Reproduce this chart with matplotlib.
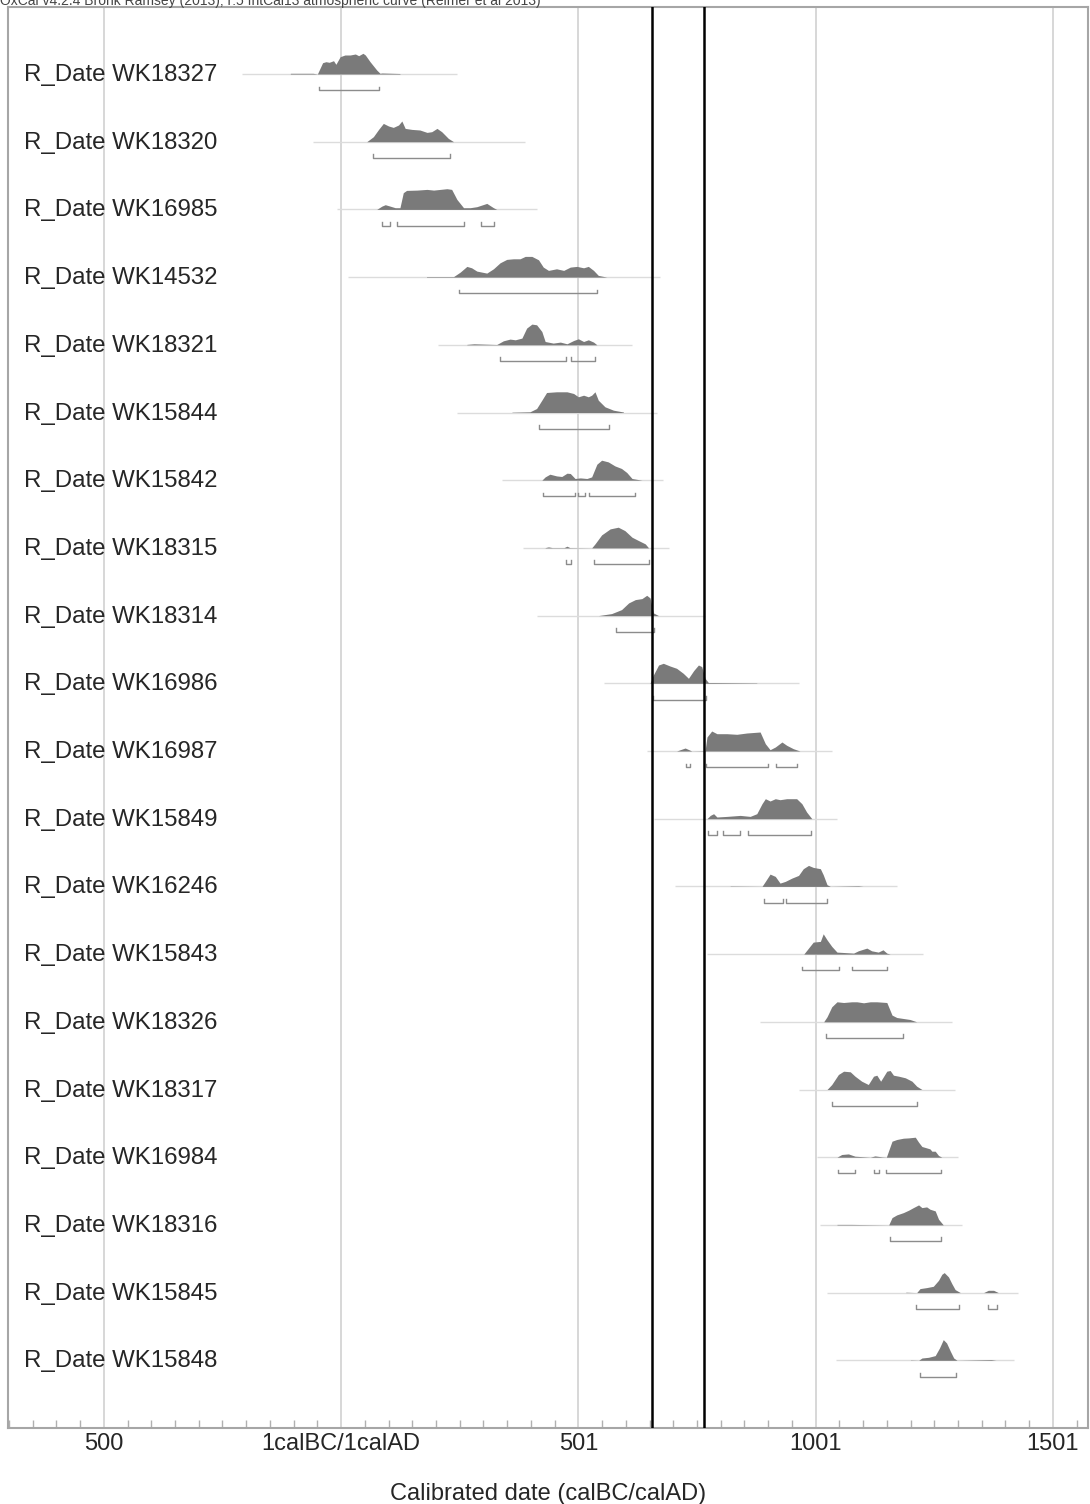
#!/usr/bin/python
# -*- coding: utf-8 -*-

import numpy as np
import matplotlib
matplotlib.use('Agg')
import matplotlib.pyplot as plt
from matplotlib.ticker import MultipleLocator

plt.rcParams['font.family'] = ['Liberation Sans', 'DejaVu Sans']

###############################################################################
# Data read from the OxCal multiplot (years on the calBC/calAD scale,
# heights are relative probability, peak ~21)
###############################################################################
names = [
    'R_Date WK18327', 'R_Date WK18320', 'R_Date WK16985', 'R_Date WK14532',
    'R_Date WK18321', 'R_Date WK15844', 'R_Date WK15842', 'R_Date WK18315',
    'R_Date WK18314', 'R_Date WK16986', 'R_Date WK16987', 'R_Date WK15849',
    'R_Date WK16246', 'R_Date WK15843', 'R_Date WK18326', 'R_Date WK18317',
    'R_Date WK16984', 'R_Date WK18316', 'R_Date WK15845', 'R_Date WK15848',
]

# extent of the thin base line of each likelihood
spans = [
    (-209, 244), (-60, 388), (-9, 412), (15, 672), (205, 613),
    (244, 665), (339, 679), (384, 690), (412, 767), (553, 964),
    (644, 1034), (660, 1045), (704, 1171), (771, 1227), (883, 1287),
    (964, 1294), (1003, 1301), (1010, 1308), (1024, 1427), (1043, 1417),
]

dens_t = [
    [-107, -59, -50, -39, -32, -25, -16, -11, -2, 8, 19, 30, 37, 46, 51, 61, 75, 82, 86, 124],
    [54, 68, 79, 89, 100, 110, 121, 128, 135, 149, 166, 181, 191, 202, 212, 226, 237],
    [75, 86, 93, 103, 114, 124, 131, 138, 160, 181, 195, 209, 223, 233, 244, 258, 272, 286, 307, 321, 328],
    [180, 237, 251, 265, 275, 286, 307, 321, 335, 349, 363, 377, 388, 402, 416, 426, 437, 454, 469, 483, 497, 511, 521, 532, 542, 560],
    [265, 280, 328, 342, 356, 367, 381, 391, 402, 412, 423, 430, 447, 462, 476, 490, 500, 511, 521, 532, 539],
    [360, 398, 412, 423, 433, 454, 476, 490, 500, 511, 521, 528, 535, 542, 556, 574, 595],
    [423, 430, 440, 454, 465, 476, 483, 493, 504, 518, 528, 539, 549, 563, 577, 591, 602, 613, 634],
    [430, 437, 445, 470, 476, 482, 528, 535, 549, 567, 584, 598, 613, 627, 641, 648],
    [542, 570, 591, 606, 620, 634, 644, 651, 658, 669],
    [651, 658, 669, 679, 693, 707, 721, 732, 743, 753, 760, 767, 774, 785, 876],
    [707, 725, 739, 767, 771, 781, 792, 813, 834, 855, 883, 894, 904, 915, 929, 939, 953, 967],
    [771, 778, 785, 792, 813, 841, 862, 876, 887, 894, 904, 915, 925, 939, 960, 971, 981, 992],
    [820, 887, 894, 904, 915, 925, 936, 950, 964, 974, 985, 995, 1010, 1016, 1024, 1031, 1090, 1100],
    [975, 985, 995, 1010, 1016, 1024, 1034, 1045, 1080, 1090, 1108, 1118, 1132, 1142, 1150, 1157],
    [1017, 1024, 1034, 1045, 1059, 1076, 1087, 1101, 1115, 1129, 1150, 1161, 1171, 1185, 1199, 1213],
    [1024, 1034, 1048, 1059, 1073, 1083, 1097, 1111, 1122, 1129, 1137, 1150, 1157, 1164, 1175, 1189, 1203, 1213, 1224],
    [1045, 1055, 1069, 1083, 1115, 1125, 1140, 1149, 1154, 1161, 1171, 1185, 1196, 1210, 1217, 1224, 1234, 1241, 1245, 1252, 1259, 1266],
    [1045, 1075, 1154, 1161, 1171, 1185, 1196, 1206, 1217, 1224, 1234, 1241, 1252, 1259, 1269],
    [1190, 1213, 1220, 1234, 1248, 1259, 1266, 1271, 1280, 1287, 1294, 1305, 1354, 1364, 1375, 1385],
    [1200, 1217, 1224, 1238, 1252, 1261, 1269, 1276, 1284, 1291, 1298, 1370, 1380],
]
dens_h = [
    [0.7, 0.7, 0, 11.3, 12.3, 11.7, 13.3, 9.7, 17.3, 19, 19, 20, 18.3, 20.7, 19, 12.3, 4, 0.7, 1, 0.5],
    [0, 5, 12.3, 18.3, 15.7, 14.3, 16.7, 20.7, 13.3, 12.3, 11.7, 9.3, 10, 13.3, 10, 3.3, 0],
    [0, 3.3, 4.7, 3.3, 1.7, 1.7, 16.7, 19, 19.3, 20, 19.3, 20, 20.7, 20, 10, 1.7, 1.7, 2.7, 6, 1.7, 0],
    [0.5, 0.5, 5, 10.7, 9.3, 6, 4, 8.3, 14.3, 17.7, 18.3, 18.3, 20.7, 20.7, 17.3, 10, 6.7, 8.3, 6.7, 10, 10.7, 9.3, 10.7, 6.7, 1.7, 0],
    [0.4, 1, 0.3, 4, 5.7, 5, 6.7, 16.7, 20.7, 20, 13.3, 3.3, 1.7, 2.7, 1, 4.3, 6, 3.3, 5, 2.7, 0],
    [0.3, 0.7, 4, 12.3, 20, 20.7, 20.7, 19, 15.7, 17.3, 15.7, 17.3, 20.7, 12.3, 5.7, 2.3, 0.5],
    [0, 3.3, 6, 4.3, 3.7, 7, 6.7, 1.7, 2.3, 1.7, 3.3, 16, 20, 18.3, 14.3, 11.7, 7.7, 1.7, 0],
    [0.3, 1, 0.3, 0.3, 1.7, 0.3, 0, 4, 13, 19, 20.7, 17.3, 10.7, 7.3, 4, 0],
    [0, 2, 6, 12.7, 16, 17, 20.3, 17.7, 2.7, 0],
    [0, 8.3, 18.3, 20, 17.3, 15, 10, 5, 12.7, 18.3, 16.7, 5, 0.7, 0.7, 0.3],
    [0, 3, 0, 0.3, 14, 20, 17.3, 17.3, 16.7, 18, 19, 7.3, 1.3, 4, 9, 5.7, 2.3, 0],
    [0, 3.3, 5, 1.7, 2.3, 3.3, 2.3, 5, 15, 20, 17.7, 20, 19, 20, 20, 15, 6.7, 0],
    [0.3, 0, 5, 12.3, 10, 3.3, 5, 8.3, 11, 17.7, 21, 19, 17.7, 11.7, 1.7, 0, 0.5, 0],
    [0, 6, 12, 12.7, 20.3, 14.3, 7.7, 2, 1, 3.3, 6, 3.3, 2, 4.3, 1, 0],
    [0, 5, 15, 20, 19.3, 20, 20, 19, 20, 20, 19.3, 6.7, 4.3, 3.3, 2.3, 0],
    [0, 5, 15, 18.3, 17.7, 13.3, 8.3, 5, 13.3, 14.3, 8.3, 18.3, 19, 14.3, 13.3, 11.7, 8.3, 3.3, 0],
    [0, 2.7, 3.3, 1, 0, 1.3, 0.3, 0, 6.7, 16, 17.7, 19, 19.3, 20, 15, 10.7, 9.3, 8.3, 6, 6, 1.7, 0],
    [0.5, 0.5, 0, 7.3, 10, 12.3, 14.7, 17.3, 20, 17.3, 18, 15.7, 14, 5.7, 0],
    [0.4, 0, 4, 5, 6.3, 12.3, 18.3, 20, 15.7, 9, 3, 0, 0, 2.3, 2.3, 0],
    [0.3, 0, 2.3, 3, 4.7, 12.3, 20.7, 17.3, 9, 2.3, 0, 0.7, 0],
]

# 95.4% highest posterior density ranges (brackets under each plot)
ranges = [
    [(-46, 79)],
    [(68, 230)],
    [(86, 103), (117, 258), (294, 322)],
    [(249, 539)],
    [(335, 474), (485, 535)],
    [(416, 565)],
    [(426, 492), (500, 513), (523, 620)],
    [(474, 485), (533, 648)],
    [(579, 660)],
    [(658, 769)],
    [(726, 736), (769, 900), (917, 960)],
    [(774, 792), (804, 841), (858, 990)],
    [(892, 932), (938, 1024)],
    [(971, 1050), (1076, 1151)],
    [(1022, 1184)],
    [(1034, 1213)],
    [(1048, 1082), (1123, 1134), (1149, 1264)],
    [(1157, 1264)],
    [(1212, 1303), (1363, 1383)],
    [(1220, 1295)],
]

ticks = [-500, 0, 500, 1000, 1500]
tick_labels = ['500', '1calBC/1calAD', '501', '1001', '1501']
marker_lines = [656, 765]
header = ('OxCal v4.2.4 Bronk Ramsey (2013); r:5 IntCal13 atmospheric curve '
          '(Reimer et al 2013)')

###############################################################################
# Style
###############################################################################
ROW_PX = 67.7
(FILL, BASE, BRK, GRID, FRAME) = ('#7a7a7a', '#dcdcdc', '#8c8c8c', '#d4d4d4', '#a6a6a6')

###############################################################################
# Plot
###############################################################################
fig = plt.figure(figsize=(10.9, 15.04), dpi=100)
ax = fig.add_axes([8/1090, 1 - 1428/1504, 1080/1090, 1421/1504])

for x in ticks:
    ax.axvline(x, color=GRID, lw=1.3, zorder=0)

for i, name in enumerate(names):
    ax.plot(spans[i], [i, i], color=BASE, lw=1.0, zorder=1,
            solid_capstyle='butt')
    t = np.array(dens_t[i])
    h = np.array(dens_h[i]) / ROW_PX
    ax.fill_between(t, i, i - h, color=FILL, lw=0, zorder=2)
    yb = i + 0.24
    for (a, b) in ranges[i]:
        ax.plot([a, a, b, b], [yb - 0.055, yb, yb, yb - 0.055],
                color=BRK, lw=1.0, zorder=2)
    ax.text(16/1080, i + 0.015, name, transform=ax.get_yaxis_transform(),
            fontsize=17.3, color='#262626', va='center', ha='left')

for x in marker_lines:
    ax.axvline(x, color='black', lw=1.8, zorder=4)

ax.set_xlim(-702, 1574)
ax.set_ylim((1428 - 74) / ROW_PX, (7 - 74) / ROW_PX)
ax.set_yticks([])
ax.set_xticks(ticks)
ax.set_xticklabels(tick_labels, fontsize=17, color='#262626')
ax.xaxis.set_minor_locator(MultipleLocator(50))
ax.tick_params(axis='x', which='major', length=0, pad=3.5)
ax.tick_params(axis='x', which='minor', direction='in', length=6,
               color='#b0b0b0', width=1)
ax.set_xlabel('Calibrated date (calBC/calAD)', fontsize=17,
              color='#262626', labelpad=20)
for s in ax.spines.values():
    s.set_color(FRAME)
    s.set_linewidth(1.5)

fig.text(0.0, 1 - 5/1504, header, fontsize=10, color='#444444',
         va='baseline', ha='left')

fig.savefig('out.png', dpi=100)
